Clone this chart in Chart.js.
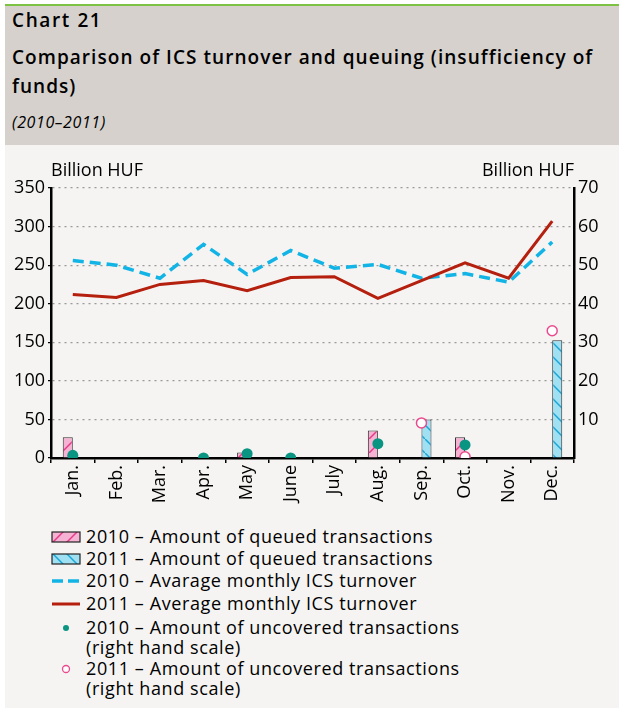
<!DOCTYPE html>
<html>
<head>
<meta charset="utf-8">
<script src="https://cdn.jsdelivr.net/npm/chart.js@4.4.1/dist/chart.umd.min.js"></script>
<style>
  html, body { margin: 0; padding: 0; background: #fff; }
  body { width: 619px; height: 708px; position: relative; overflow: hidden; font-family: 'Open Sans', sans-serif; color: #000; }
  #topline { position: absolute; left: 5px; top: 4px; width: 614px; height: 2px; background: #7dc242; }
  #header { position: absolute; left: 5px; top: 6px; width: 614px; height: 139px; background: #d6d1cc; }
  #panel { position: absolute; left: 5px; top: 145px; width: 614px; height: 563px; background: #f5f4f2; }
  .h { position: absolute; left: 12px; white-space: nowrap; }
  #chartnum { top: 8px; font-weight: 600; font-size: 19px; line-height: 24px; letter-spacing: 1.6px; }
  #title1 { top: 45px; font-weight: 600; font-size: 19px; line-height: 24px; letter-spacing: 1.05px; }
  #title2 { top: 74px; font-weight: 600; font-size: 19px; line-height: 24px; letter-spacing: 1.05px; }
  #sub { top: 112px; font-style: italic; font-size: 16px; line-height: 20px; letter-spacing: 0.6px; }
  #chart { position: absolute; left: 5px; top: 145px; }
  .lg { position: absolute; left: 86px; font-size: 18px; line-height: 21px; letter-spacing: 0.6px; white-space: nowrap; }
  .sw { position: absolute; }
</style>
</head>
<body>
<div id="topline"></div>
<div id="header"></div>
<div id="panel"></div>
<div class="h" id="chartnum">Chart 21</div>
<div class="h" id="title1">Comparison of ICS turnover and queuing (insufficiency of</div>
<div class="h" id="title2">funds)</div>
<div class="h" id="sub">(2010–2011)</div>
<canvas id="chart" width="614" height="375"></canvas>
<div id="legend"></div>
<script>
// chart values
const months = ['Jan.', 'Feb.', 'Mar.', 'Apr.', 'May', 'June', 'July', 'Aug.', 'Sep.', 'Oct.', 'Nov.', 'Dec.'];
const queued2010 = [27, null, null, null, 7, null, null, 35.5, null, 27, null, null];
const queued2011 = [null, null, null, null, null, null, null, null, 50, null, null, 152.5];
const turnover2010 = [256, 250, 233, 277, 238, 269, 246, 251, 233, 239, 228, 280];
const turnover2011 = [212, 208, 225, 230, 217, 234, 235, 207, 230, 253, 233, 307];
const uncovered2010 = [0.7, null, null, 0, 1.1, 0, null, 3.7, null, 3.4, null, null];
const uncovered2011 = [null, null, null, null, null, null, null, null, 9.1, 0.3, null, 33];
const leftTicks = [0, 50, 100, 150, 200, 250, 300, 350];
const rightTicks = [10, 20, 30, 40, 50, 60, 70];

const legendItems = [
  { kind: 'bar2010', lines: ['2010 – Amount of queued transactions'], y: 537 },
  { kind: 'bar2011', lines: ['2011 – Amount of queued transactions'], y: 559 },
  { kind: 'dash', lines: ['2010 – Avarage monthly ICS turnover'], y: 581 },
  { kind: 'solid', lines: ['2011 – Average monthly ICS turnover'], y: 604 },
  { kind: 'dot', lines: ['2010 – Amount of uncovered transactions', '(right hand scale)'], y: 628 },
  { kind: 'ring', lines: ['2011 – Amount of uncovered transactions', '(right hand scale)'], y: 669 }
];

const PINK = '#f5b2d2', PINK_LINE = '#e6398a';
const CYAN = '#9fe1f3', CYAN_LINE = '#1ca6d6';
const BLUE_DASH = '#12b4e6', RED = '#b51f0d', GREEN = '#0a9482', RING = '#ea4a8e';
const FONT = "'Open Sans', sans-serif";

function hatch(bg, fg, forward) {
  const c = document.createElement('canvas');
  c.width = c.height = 14;
  const g = c.getContext('2d');
  g.fillStyle = bg;
  g.fillRect(0, 0, 14, 14);
  g.strokeStyle = fg;
  g.lineWidth = 1.5;
  g.beginPath();
  if (forward) {
    g.moveTo(-2, 16); g.lineTo(16, -2);
  } else {
    g.moveTo(-2, -2); g.lineTo(16, 16);
  }
  g.stroke();
  return g.createPattern(c, 'repeat');
}

const ctx = document.getElementById('chart').getContext('2d');
const pinkFill = hatch(PINK, PINK_LINE, true);
const cyanFill = hatch(CYAN, CYAN_LINE, false);

const axisTitles = {
  id: 'axisTitles',
  afterDraw(chart) {
    const { ctx, chartArea } = chart;
    ctx.save();
    ctx.font = '18px ' + FONT;
    ctx.fillStyle = '#000';
    ctx.textBaseline = 'middle';
    ctx.textAlign = 'left';
    ctx.fillText('Billion HUF', chartArea.left, chartArea.top - 17);
    ctx.textAlign = 'right';
    ctx.fillText('Billion HUF', chartArea.right, chartArea.top - 17);
    ctx.restore();
  }
};

new Chart(ctx, {
  data: {
    labels: months,
    datasets: [
      {
        type: 'scatter', label: '2010 – Amount of uncovered transactions', data: uncovered2010,
        yAxisID: 'y1', order: 1, showLine: false,
        pointRadius: 5.5, pointBackgroundColor: GREEN, pointBorderColor: GREEN, pointBorderWidth: 0
      },
      {
        type: 'scatter', label: '2011 – Amount of uncovered transactions', data: uncovered2011,
        yAxisID: 'y1', order: 1, showLine: false,
        pointRadius: 5, pointBackgroundColor: '#fff', pointBorderColor: RING, pointBorderWidth: 1.5
      },
      {
        type: 'line', label: '2011 – Average monthly ICS turnover', data: turnover2011,
        yAxisID: 'y', order: 2, borderColor: RED, borderWidth: 3, pointRadius: 0, tension: 0
      },
      {
        type: 'line', label: '2010 – Avarage monthly ICS turnover', data: turnover2010,
        yAxisID: 'y', order: 2, borderColor: BLUE_DASH, borderWidth: 3.5, borderDash: [11, 6],
        pointRadius: 0, tension: 0
      },
      {
        type: 'bar', label: '2010 – Amount of queued transactions', data: queued2010,
        yAxisID: 'y', order: 3, backgroundColor: pinkFill, borderColor: '#333', borderWidth: 1,
        categoryPercentage: 0.46, barPercentage: 1
      },
      {
        type: 'bar', label: '2011 – Amount of queued transactions', data: queued2011,
        yAxisID: 'y', order: 3, backgroundColor: cyanFill, borderColor: '#333', borderWidth: 1,
        categoryPercentage: 0.46, barPercentage: 1
      }
    ]
  },
  options: {
    responsive: false,
    animation: false,
    layout: { padding: { top: 43, left: 0, right: 0, bottom: 0 } },
    plugins: { legend: { display: false }, tooltip: { enabled: false } },
    scales: {
      x: {
        type: 'category',
        offset: true,
        afterFit(scale) { scale.height = 62; },
        grid: { offset: true, drawOnChartArea: false, color: '#000', tickLength: 5, lineWidth: 1.5 },
        border: { color: '#000', width: 2.5 },
        ticks: { minRotation: 90, maxRotation: 90, autoSkip: false, padding: 2, color: '#000', font: { family: FONT, size: 18 } }
      },
      y: {
        position: 'left',
        min: 0, max: 350,
        afterFit(scale) { scale.width = 46; },
        afterBuildTicks(scale) { scale.ticks = leftTicks.map(v => ({ value: v })); },
        grid: { color: '#9a9a9a', lineWidth: 1.2, tickColor: '#000', tickLength: 3, tickBorderDash: [] },
        border: { color: '#000', width: 2.5, dash: [2, 4] },
        ticks: { padding: 3, color: '#000', font: { family: FONT, size: 18 } }
      },
      y1: {
        position: 'right',
        min: 0, max: 70,
        afterFit(scale) { scale.width = 45; },
        afterBuildTicks(scale) { scale.ticks = rightTicks.map(v => ({ value: v })); },
        grid: { drawOnChartArea: false, drawTicks: false },
        border: { color: '#000', width: 2.5 },
        ticks: { padding: 4, color: '#000', font: { family: FONT, size: 18 } }
      }
    }
  },
  plugins: [axisTitles]
});

// html legend
const legend = document.getElementById('legend');
legendItems.forEach(item => {
  item.lines.forEach((txt, i) => {
    const d = document.createElement('div');
    d.className = 'lg';
    d.textContent = txt;
    d.style.top = (item.y - 11 + i * 20) + 'px';
    legend.appendChild(d);
  });
  const c = document.createElement('canvas');
  c.className = 'sw';
  c.width = 30; c.height = 14;
  c.style.left = '51px';
  c.style.top = (item.y - 7) + 'px';
  const g = c.getContext('2d');
  if (item.kind === 'bar2010' || item.kind === 'bar2011') {
    g.fillStyle = item.kind === 'bar2010' ? hatch(PINK, PINK_LINE, true) : hatch(CYAN, CYAN_LINE, false);
    g.fillRect(1, 2, 28, 10);
    g.strokeStyle = '#222';
    g.lineWidth = 1.2;
    g.strokeRect(1, 2, 28, 10);
  } else if (item.kind === 'dash') {
    g.strokeStyle = BLUE_DASH; g.lineWidth = 3.5;
    g.setLineDash([11, 5]);
    g.beginPath(); g.moveTo(1, 7); g.lineTo(29, 7); g.stroke();
  } else if (item.kind === 'solid') {
    g.strokeStyle = RED; g.lineWidth = 3;
    g.beginPath(); g.moveTo(1, 7); g.lineTo(29, 7); g.stroke();
  } else if (item.kind === 'dot') {
    g.fillStyle = GREEN;
    g.beginPath(); g.arc(15, 7, 3, 0, Math.PI * 2); g.fill();
  } else {
    g.fillStyle = '#fff'; g.strokeStyle = RING; g.lineWidth = 1.3;
    g.beginPath(); g.arc(15, 7, 3.5, 0, Math.PI * 2); g.fill(); g.stroke();
  }
  legend.appendChild(c);
});
</script>
</body>
</html>
